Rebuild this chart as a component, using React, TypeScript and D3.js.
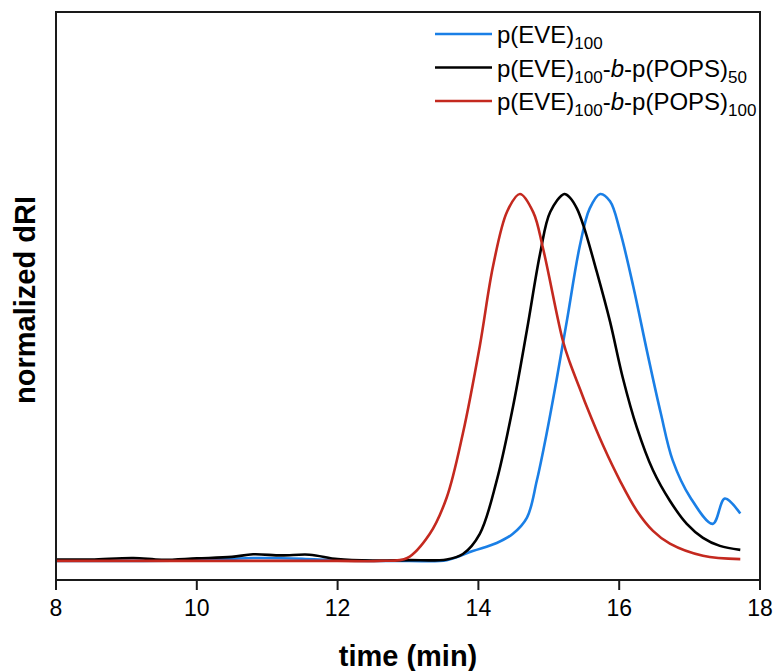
import React from "react";
import * as d3 from "d3";

const W = 774;
const H = 671;
const M = { left: 56, right: 14, top: 12, bottom: 91 };

// elution time (min) and normalized dRI
const blueT = [8, 9, 10, 10.5, 10.8, 11.5, 12, 13, 13.55, 13.92, 14.26, 14.49, 14.69, 14.83, 14.97, 15.11, 15.26, 15.44, 15.58, 15.73, 15.87, 16.01, 16.2, 16.4, 16.59, 16.76, 17.01, 17.33, 17.5, 17.72];
const blueV = [0, 0, 0.002, 0.006, 0.008, 0.006, 0.001, 0, 0.002, 0.027, 0.049, 0.074, 0.118, 0.219, 0.348, 0.493, 0.658, 0.858, 0.96, 1.0, 0.98, 0.9, 0.748, 0.567, 0.403, 0.274, 0.173, 0.101, 0.17, 0.129];

const blackT = [8, 8.5, 9.1, 9.5, 10, 10.5, 10.8, 11.2, 11.6, 12, 12.5, 13, 13.55, 13.78, 14.02, 14.26, 14.49, 14.69, 14.88, 15.02, 15.22, 15.3, 15.4, 15.49, 15.68, 15.87, 16.05, 16.25, 16.48, 16.72, 16.96, 17.19, 17.43, 17.72];
const blackV = [0.004, 0.004, 0.008, 0.003, 0.007, 0.011, 0.018, 0.015, 0.017, 0.005, 0.001, 0.002, 0.004, 0.019, 0.074, 0.219, 0.419, 0.63, 0.841, 0.951, 1.0, 0.99, 0.96, 0.915, 0.789, 0.652, 0.5, 0.364, 0.247, 0.164, 0.101, 0.063, 0.041, 0.03];

const redT = [8, 10, 12, 12.6, 12.99, 13.31, 13.55, 13.78, 14.02, 14.21, 14.41, 14.59, 14.78, 14.92, 15.2, 15.3, 15.44, 15.54, 15.77, 16.01, 16.25, 16.48, 16.72, 17.19, 17.72];
const redV = [0, 0, 0, 0, 0.008, 0.074, 0.173, 0.348, 0.586, 0.805, 0.953, 1.0, 0.95, 0.85, 0.6, 0.54, 0.47, 0.42, 0.315, 0.219, 0.137, 0.082, 0.047, 0.014, 0.005];

const xTicks = [8, 10, 12, 14, 16, 18];

const series = [
  { name: "p(EVE)", sub1: "100", rest: "", sub2: "", color: "#1a7fe6", t: blueT, v: blueV },
  { name: "p(EVE)", sub1: "100", rest: "-p(POPS)", sub2: "50", color: "#000000", t: blackT, v: blackV },
  { name: "p(EVE)", sub1: "100", rest: "-p(POPS)", sub2: "100", color: "#c4291f", t: redT, v: redV },
];

export default function App() {
  const x = d3.scaleLinear().domain([8, 18]).range([M.left, W - M.right]);
  const y = d3.scaleLinear().domain([-0.052, 1.496]).range([H - M.bottom, M.top]);

  const line = d3
    .line<[number, number]>()
    .x((d) => x(d[0]))
    .y((d) => y(d[1]))
    .curve(d3.curveCatmullRom.alpha(0.5));

  const font = "Arial, 'Liberation Sans', sans-serif";
  const bottom = H - M.bottom;

  return (
    <svg width={W} height={H} style={{ position: "absolute", left: 0, top: 0 }} fontFamily={font}>
      <rect width={W} height={H} fill="#fff" />
      {series.map((s, i) => (
        <path
          key={i}
          d={line(s.t.map((t, j) => [t, s.v[j]] as [number, number])) || ""}
          fill="none"
          stroke={s.color}
          strokeWidth={2.6}
          strokeLinejoin="round"
        />
      ))}
      <rect
        x={M.left}
        y={M.top}
        width={W - M.left - M.right}
        height={bottom - M.top}
        fill="none"
        stroke="#1a1a1a"
        strokeWidth={2}
      />
      {xTicks.map((t) => (
        <g key={t} transform={`translate(${x(t)},${bottom})`}>
          <line y2={10} stroke="#1a1a1a" strokeWidth={2} />
          <text y={36} textAnchor="middle" fontSize={23}>
            {t}
          </text>
        </g>
      ))}
      <text x={(M.left + W - M.right) / 2} y={666} textAnchor="middle" fontSize={29} fontWeight="bold">
        time (min)
      </text>
      <text
        transform={`translate(35,300) rotate(-90)`}
        textAnchor="middle"
        fontSize={29}
        fontWeight="bold"
      >
        normalized dRI
      </text>
      {series.map((s, i) => {
        const ly = 34 + i * 33.5;
        return (
          <g key={"lg" + i}>
            <line x1={435} x2={492} y1={ly} y2={ly} stroke={s.color} strokeWidth={2.6} />
            <text x={497} y={ly + 9} fontSize={24}>
              {s.name}
              <tspan fontSize={17} dy={6}>{s.sub1}</tspan>
              {s.rest && (
                <>
                  <tspan dy={-6}>-</tspan>
                  <tspan fontStyle="italic">b</tspan>
                  <tspan>{s.rest}</tspan>
                  <tspan fontSize={17} dy={6}>{s.sub2}</tspan>
                </>
              )}
            </text>
          </g>
        );
      })}
    </svg>
  );
}
